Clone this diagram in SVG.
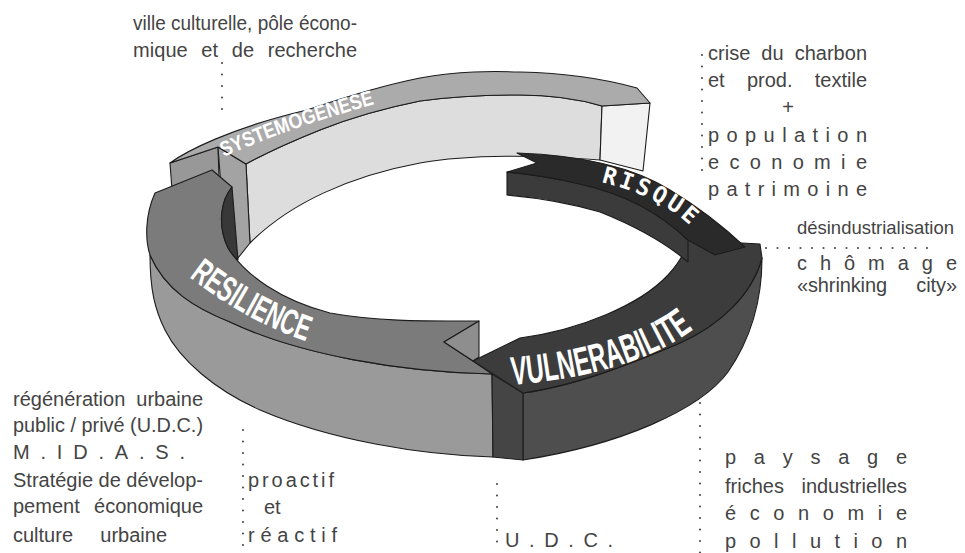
<svg xmlns="http://www.w3.org/2000/svg" width="965" height="553" viewBox="0 0 965 553">
<style>
.f{stroke:#1c1c1c;stroke-width:1.1;stroke-linejoin:round}
.sysTop{fill:#ababab}.sysIn{fill:#dddddd}.sysCapR{fill:#f2f2f2}.sysCapL{fill:#a3a3a3}.sysStrip{fill:#989898}
.resTop{fill:#7b7b7b}.resWall{fill:#9a9a9a}.resIn{fill:#383838}.resNotch{fill:#8e8e8e}
.vulTop{fill:#3c3c3c}.vulWall{fill:#4e4e4e}.vulHead{fill:#454545}
.risTop{fill:#2a2a2a}.risIn{fill:#3b3b3b}
.lbl{fill:#ffffff;font-family:"Liberation Sans",Arial,sans-serif;font-weight:bold}
.mono{fill:#ffffff;font-family:"DejaVu Sans Mono","Liberation Mono",monospace;font-weight:bold}
.note{fill:#444444;font-family:"Liberation Sans",Arial,sans-serif;font-size:20px}
.dots{fill:none;stroke:#505050;stroke-width:2.2;stroke-linecap:round;stroke-dasharray:0 11.5}
</style>
<defs>
<path id="pSys" d="M224,157 Q295,125 390,100"/>
<path id="pRis" d="M601,182 Q668,199 696,232"/>
<path id="pVul" d="M512,385 Q640,374 700,324"/>
<path id="pRes" d="M189,277 Q247,322 311,343"/>
</defs>
<rect width="965" height="553" fill="#ffffff"/>

<g id="systemogenese">
<path class="f sysStrip" d="M170,163 L218,147 L219,178 L172,190 Z"/>
<path class="f sysIn" d="M246,164 C268,152 295,140 320,130 C350,118 385,108 420,101 C450,97 485,95 520,95 C545,95 575,98 602,106 L600,160 C540,155 470,154 420,163 C350,176 290,203 250,243 Z"/>
<path class="f sysCapR" d="M602,106 L650,103 L643,171 L600,160 Z"/>
<path class="f sysCapL" d="M218,147 L246,164 L250,243 L238,258 L222,200 Z"/>
<path class="f sysTop" d="M218,147 L170,163 C185,152 230,128 307,110 C345,97 385,85 420,78 C460,71 490,71 520,72 C565,73 605,79 637,88 L650,103 L602,106 C575,98 545,95 520,95 C485,95 450,97 420,101 C385,108 350,118 320,130 C295,140 268,152 246,164 Z"/>
<text class="lbl" font-size="21"><textPath href="#pSys" textLength="160" lengthAdjust="spacingAndGlyphs">SYSTEMOGENESE</textPath></text>
</g>

<g id="resilience">
<path class="f resWall" d="M150,255 C165,290 195,308 230,322 C300,355 400,372 492,374 L493,457 C420,455 330,440 260,410 C215,390 180,360 165,330 C155,310 150,290 150,255 Z"/>
<path class="f resTop" d="M155,193 L212,170 L232,187 C221,200 217,225 228,248 C245,275 280,300 330,313 C380,322 430,321 479,321 L444,342 L473,361 L492,374 C400,372 300,355 230,322 C195,308 165,290 150,255 C145,240 145,215 155,193 Z"/>
<path class="f resIn" d="M232,187 C221,200 217,225 228,248 C231,253 234,257 238,260 Z"/>
<path class="f resNotch" d="M479,321 L444,342 L473,361 L479,357 Z"/>
<text class="lbl" font-size="36"><textPath href="#pRes" textLength="134" lengthAdjust="spacingAndGlyphs">RESILIENCE</textPath></text>
</g>

<g id="vulnerabilite">
<path class="f vulWall" d="M523,393 C580,385 640,360 680,343 C720,325 752,295 762,258 C762,300 750,340 728,372 C700,410 620,445 523,460 Z"/>
<path class="f vulHead" d="M492,374 L523,393 L523,460 L493,457 Z"/>
<path class="f vulTop" d="M473,361 L520,338 C580,330 640,305 668,275 C680,262 686,250 688,240 L760,244 L762,258 C752,295 720,325 680,343 C640,360 580,385 523,393 Z"/>
<text class="lbl" font-size="40"><textPath href="#pVul" textLength="192" lengthAdjust="spacingAndGlyphs">VULNERABILITE</textPath></text>
</g>

<g id="risque">
<path class="f risIn" d="M507,172 C530,174 555,178 580,184 C630,195 665,218 688,240 L688,262 C668,245 640,228 600,212 C570,203 540,198 507,195 Z"/>
<path class="f risTop" d="M517,153 C575,155 630,165 670,190 C700,208 725,228 745,247 L715,255 L688,240 C665,218 630,195 580,184 C555,178 530,174 507,172 L537,163 Z"/>
<text class="mono" font-size="23"><textPath href="#pRis" textLength="100" lengthAdjust="spacing">RISQUE</textPath></text>
</g>

<g id="connectors">
<path class="dots" d="M222,63 L222,120"/>
<path class="dots" d="M702,55 L702,180"/>
<path class="dots" d="M766,248 L932,248"/>
<path class="dots" d="M243,430 L243,553"/>
<path class="dots" d="M497,484 L497,553"/>
<path class="dots" d="M700,403 L700,553"/>
</g>

<g id="note-systemogenese" class="note">
<text x="133" y="30" textLength="224" lengthAdjust="spacingAndGlyphs">ville culturelle, pôle écono-</text>
<text x="133" y="57" textLength="224" word-spacing="8">mique et de recherche</text>
</g>
<g id="note-risque" class="note">
<text x="708" y="60" textLength="159" word-spacing="5.5">crise du charbon</text>
<text x="708" y="87" textLength="159" word-spacing="16.7">et prod. textile</text>
<text x="788" y="114" text-anchor="middle">+</text>
<text x="708" y="142" textLength="159">population</text>
<text x="708" y="169" textLength="159">economie</text>
<text x="708" y="196" textLength="159">patrimoine</text>
</g>
<g id="note-vulnerabilite-droite" class="note">
<text x="797" y="234" font-size="18.5" textLength="157" lengthAdjust="spacingAndGlyphs">désindustrialisation</text>
<text x="797" y="270" textLength="160">chômage</text>
<text x="797" y="292" textLength="160" word-spacing="24">«shrinking city»</text>
</g>
<g id="note-resilience" class="note">
<text x="13" y="406" textLength="190" word-spacing="5.5">régénération urbaine</text>
<text x="13" y="432" textLength="190" lengthAdjust="spacingAndGlyphs">public / privé (U.D.C.)</text>
<text x="13" y="459" textLength="172">M.ID.A.S.</text>
<text x="13" y="487" textLength="190">Stratégie de dévelop-</text>
<text x="13" y="513" textLength="190" word-spacing="8.8">pement économique</text>
<text x="13" y="542" textLength="154" word-spacing="21.7">culture urbaine</text>
</g>
<g id="note-proactif" class="note">
<text x="248" y="487" textLength="86">proactif</text>
<text x="264" y="514">et</text>
<text x="248" y="542" textLength="89">réactif</text>
</g>
<g id="note-udc" class="note">
<text x="505" y="547" textLength="108">U.D.C.</text>
</g>
<g id="note-vulnerabilite-bas" class="note">
<text x="725" y="464" textLength="182">paysage</text>
<text x="725" y="493" textLength="182" word-spacing="12">friches industrielles</text>
<text x="725" y="520" textLength="182">économie</text>
<text x="725" y="548" textLength="182">pollution</text>
</g>
</svg>
